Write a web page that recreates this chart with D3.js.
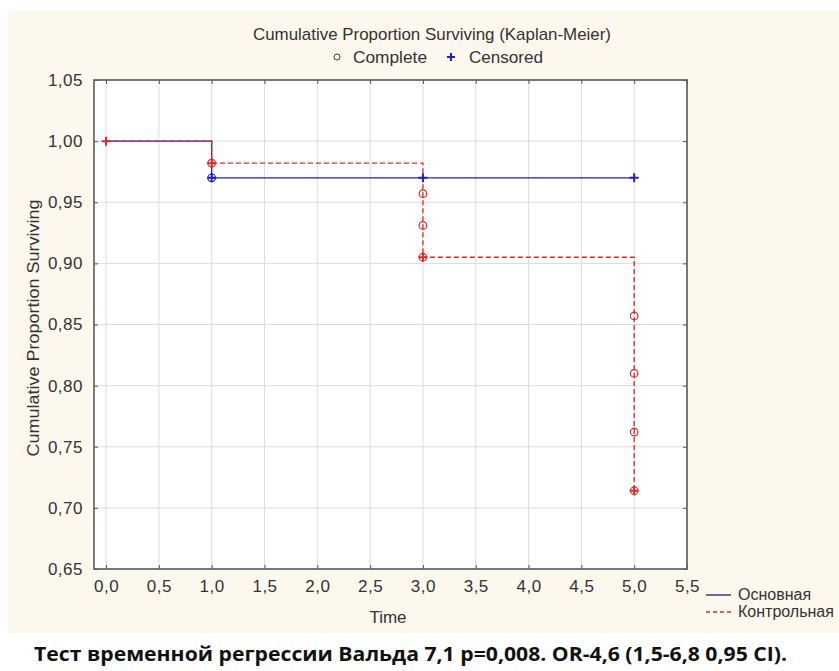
<!DOCTYPE html>
<html>
<head>
<meta charset="utf-8">
<script src="https://cdn.jsdelivr.net/npm/d3@7"></script>
<style>
  body { margin: 0; background: #fff; }
  text { font-family: "Liberation Sans", Arial, sans-serif; }
</style>
</head>
<body>
<svg width="839" height="671"></svg>
<script>
(function () {
    'use strict';

    // data
    var xTicks = [0, 0.5, 1, 1.5, 2, 2.5, 3, 3.5, 4, 4.5, 5, 5.5];
    var yTicks = [0.65, 0.70, 0.75, 0.80, 0.85, 0.90, 0.95, 1.00, 1.05];

    var mainSteps = [[0, 1.0], [1, 0.970], [5, 0.970]];
    var ctrlSteps = [[0, 1.0], [1, 0.982], [3, 0.905], [5, 0.714]];

    var mainComplete = [[1, 0.970]];
    var mainCensored = [[1, 0.970], [3, 0.970], [5, 0.970]];
    var ctrlComplete = [[1, 0.982], [3, 0.957], [3, 0.931], [3, 0.905],
                        [5, 0.857], [5, 0.810], [5, 0.762], [5, 0.714]];
    var ctrlCensored = [[0, 1.0], [1, 0.982], [3, 0.905], [5, 0.714]];

    var seriesNames = ['Основная', 'Контрольная'];

    var svg = d3.select('svg');
    var left = 94, right = 687, top = 80, bottom = 569;
    var blue = '#1f1fc8', red = '#e0282c';
    var fs = '17px';

    // cream panel
    svg.append('rect')
        .attr('x', 8).attr('y', 10)
        .attr('width', 831).attr('height', 623)
        .attr('fill', '#fdf8ee');

    var x = d3.scaleLinear().domain([-0.114, 5.5]).range([left, right]);
    var y = d3.scaleLinear().domain([0.65, 1.05]).range([bottom, top]);

    svg.append('rect')
        .attr('x', left).attr('y', top)
        .attr('width', right - left).attr('height', bottom - top)
        .attr('fill', '#fff');

    // grid
    svg.append('g').selectAll('line').data(xTicks).join('line')
        .attr('x1', d => x(d)).attr('x2', d => x(d))
        .attr('y1', top).attr('y2', bottom)
        .attr('stroke', '#dcdcdc').attr('stroke-width', 1);
    svg.append('g').selectAll('line').data(yTicks).join('line')
        .attr('x1', left).attr('x2', right)
        .attr('y1', d => y(d)).attr('y2', d => y(d))
        .attr('stroke', '#dcdcdc').attr('stroke-width', 1);

    // axes (inner ticks on all four sides)
    var fmt = d => d3.format('.1f')(d).replace('.', ',');
    var fmt2 = d => d3.format('.2f')(d).replace('.', ',');

    svg.append('g').attr('transform', 'translate(0,' + bottom + ')')
        .call(d3.axisBottom(x).tickValues(xTicks).tickFormat(fmt).tickSizeInner(-4).tickSizeOuter(0).tickPadding(11));
    svg.append('g').attr('transform', 'translate(' + left + ',0)')
        .call(d3.axisLeft(y).tickValues(yTicks).tickFormat(fmt2).tickSizeInner(-4).tickSizeOuter(0).tickPadding(11));
    svg.append('g').attr('transform', 'translate(0,' + top + ')')
        .call(d3.axisTop(x).tickValues(xTicks).tickFormat('').tickSizeInner(-4).tickSizeOuter(0));
    svg.append('g').attr('transform', 'translate(' + right + ',0)')
        .call(d3.axisRight(y).tickValues(yTicks).tickFormat('').tickSizeInner(-4).tickSizeOuter(0));

    svg.selectAll('.domain').remove();
    svg.selectAll('.tick line').attr('stroke', '#555');
    svg.selectAll('.tick text')
        .attr('fill', '#333')
        .style('font-size', fs)
        .style('letter-spacing', '0.5px')
        .style('font-family', '"Liberation Sans", Arial, sans-serif');

    svg.append('rect')
        .attr('x', left).attr('y', top)
        .attr('width', right - left).attr('height', bottom - top)
        .attr('fill', 'none').attr('stroke', '#5a5a5a').attr('stroke-width', 1.6);

    // survival lines
    var line = d3.line().x(d => x(d[0])).y(d => y(d[1])).curve(d3.curveStepAfter);
    svg.append('path').datum(mainSteps)
        .attr('d', line).attr('fill', 'none')
        .attr('stroke', blue).attr('stroke-width', 1.3);
    svg.append('path').datum(ctrlSteps)
        .attr('d', line).attr('fill', 'none')
        .attr('stroke', red).attr('stroke-width', 1.3)
        .attr('stroke-dasharray', '5,3');

    // markers
    function circles(data, color) {
        svg.append('g').selectAll('circle').data(data).join('circle')
            .attr('cx', d => x(d[0])).attr('cy', d => y(d[1]))
            .attr('r', 3.8)
            .attr('fill', 'none').attr('stroke', color).attr('stroke-width', 1.2);
    }
    function pluses(data, color) {
        svg.append('g').selectAll('path').data(data).join('path')
            .attr('d', d => {
                var px = x(d[0]), py = y(d[1]), s = 4.5;
                return 'M' + (px - s) + ',' + py + 'H' + (px + s) + 'M' + px + ',' + (py - s) + 'V' + (py + s);
            })
            .attr('stroke', color).attr('stroke-width', 2);
    }
    circles(mainComplete, blue);
    pluses(mainCensored, blue);
    circles(ctrlComplete, red);
    pluses(ctrlCensored, red);

    // titles
    svg.append('text')
        .attr('x', 432).attr('y', 40)
        .attr('text-anchor', 'middle')
        .attr('textLength', 358).attr('lengthAdjust', 'spacingAndGlyphs')
        .style('font-size', fs).attr('fill', '#333')
        .text('Cumulative Proportion Surviving (Kaplan-Meier)');

    var lg = svg.append('g');
    lg.append('circle').attr('cx', 337).attr('cy', 57).attr('r', 3)
        .attr('fill', 'none').attr('stroke', '#333').attr('stroke-width', 1);
    lg.append('text').attr('x', 353).attr('y', 63)
        .attr('textLength', 74).attr('lengthAdjust', 'spacingAndGlyphs')
        .style('font-size', fs).attr('fill', '#333').text('Complete');
    lg.append('path').attr('d', 'M447,57H455M451,53V61')
        .attr('stroke', blue).attr('stroke-width', 2);
    lg.append('text').attr('x', 469).attr('y', 63)
        .attr('textLength', 74).attr('lengthAdjust', 'spacingAndGlyphs')
        .style('font-size', fs).attr('fill', '#333').text('Censored');

    svg.append('text')
        .attr('transform', 'translate(39,328) rotate(-90)')
        .attr('text-anchor', 'middle')
        .attr('textLength', 257).attr('lengthAdjust', 'spacingAndGlyphs')
        .style('font-size', fs).attr('fill', '#333')
        .text('Cumulative Proportion Surviving');

    svg.append('text')
        .attr('x', 388).attr('y', 623)
        .attr('text-anchor', 'middle')
        .style('font-size', fs).attr('fill', '#333')
        .text('Time');

    // series legend
    var sl = svg.append('g');
    sl.append('line').attr('x1', 706).attr('x2', 731).attr('y1', 595).attr('y2', 595)
        .attr('stroke', '#1a1a8a').attr('stroke-width', 1.3);
    sl.append('line').attr('x1', 706).attr('x2', 731).attr('y1', 612).attr('y2', 612)
        .attr('stroke', red).attr('stroke-width', 1.3).attr('stroke-dasharray', '4,3');
    sl.selectAll('text').data(seriesNames).join('text')
        .attr('x', 738).attr('y', (d, i) => 600 + i * 17)
        .style('font-size', '16px').attr('fill', '#333')
        .text(d => d);

    // caption
    svg.append('text')
        .attr('x', 34).attr('y', 661)
        .attr('textLength', 753).attr('lengthAdjust', 'spacingAndGlyphs')
        .style('font-size', '19px').style('font-weight', 'bold')
        .style('font-family', '"Open Sans", "Noto Sans", sans-serif')
        .attr('fill', '#111')
        .text('Тест временной регрессии Вальда 7,1 p=0,008. OR-4,6 (1,5-6,8 0,95 CI).');
}());
</script>
</body>
</html>
